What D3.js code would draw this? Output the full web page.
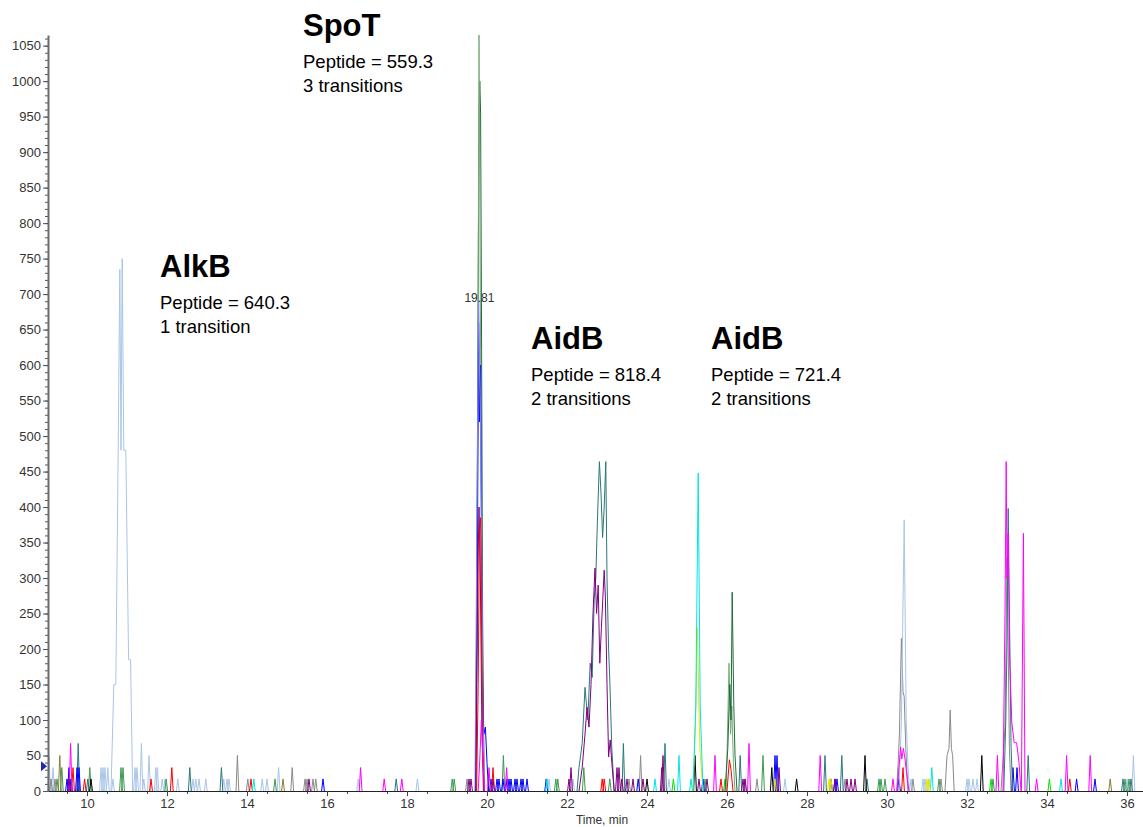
<!DOCTYPE html>
<html lang="en">
<head>
<meta charset="UTF-8">
<title>MRM chromatogram - AlkB, SpoT, AidB</title>
<script src="https://d3js.org/d3.v7.min.js"></script>
<style>
	body { margin: 0; background: #fff; }
	text { font-family: Arial, "Liberation Sans", sans-serif; }
	.tick text { font-size: 13px; fill: #333; }
	.trace { fill: none; stroke-width: 1; stroke-linejoin: round; }
</style>
</head>
<body>
<div id="chart"></div>
<script>

	// tick labels
	var yTicks = [0, 50, 100, 150, 200, 250, 300, 350, 400, 450, 500, 550, 600, 650, 700, 750, 800, 850, 900, 950, 1000, 1050];
	var xTicks = [10, 12, 14, 16, 18, 20, 22, 24, 26, 28, 30, 32, 34, 36];

	// noise spikes per transition colour: [time, intensity]
	var lightBlueNoise = [[9.05,50],[9.1,17],[9.15,33],[10.35,33],[10.4,33],[10.45,33],[10.52,33],[10.65,17],[11.2,33],[11.25,33],[11.36,67],[11.42,17],[11.55,50],[11.72,33],[11.76,33],[11.88,17],[11.95,17],[12.27,17],[12.65,17],[12.72,17],[12.8,17],[12.97,17],[13.42,17],[13.5,17],[13.55,17],[14.38,17],[14.5,17],[14.79,33],[16.78,17],[18.26,17],[21.55,17],[22.15,17],[23.45,17],[24.55,17],[27.45,17],[30.27,33],[30.6,17],[30.9,17],[30.95,17],[31.05,17],[32.0,17],[32.05,17],[32.15,17],[32.25,17],[36.0,17],[36.16,50]];
	var grayNoise = [[9.1,17],[9.2,17],[13.76,50],[14.02,17],[15.13,33],[15.45,17],[15.5,17],[15.65,17],[15.72,17],[19.5,17],[23.55,17],[23.84,50],[26.45,17],[26.75,17],[28.95,17],[30.65,17],[31.35,17]];
	var greenNoise = [[9.25,17],[9.37,33],[10.07,33],[10.85,33],[10.9,33],[11.98,17],[14.7,17],[19.13,17],[19.18,17],[20.41,50],[21.72,17],[21.77,17],[22.42,33],[23.07,17],[25.45,17],[26.9,50],[29.8,17],[29.85,17],[29.95,17],[31.3,17],[32.65,17],[35.95,17],[36.05,17]];
	var tealNoise = [[9.78,67],[10.02,17],[12.57,33],[13.36,33],[17.73,17],[23.41,67],[24.45,67],[26.33,50],[28.45,50],[28.87,50],[29.5,17],[33.53,50],[35.9,17],[36.1,17]];
	var blueNoise = [[9.5,17],[9.55,33],[9.6,17],[9.75,33],[9.8,33],[15.9,17],[20.1,17],[20.15,17],[20.25,17],[20.3,17],[20.4,17],[20.5,17],[20.55,17],[20.6,17],[20.7,17],[20.75,17],[20.85,17],[20.9,17],[21.0,17],[21.48,17],[23.78,17],[25.4,17],[27.2,50],[27.25,50],[28.6,17],[28.7,17],[28.75,17],[30.3,17],[33.15,33],[33.25,33],[34.74,17],[35.2,17]];
	var redNoise = [[9.65,33],[9.94,17],[11.6,17],[12.12,33],[14.1,17],[20.15,33],[22.88,17],[22.93,17],[25.85,17],[30.4,33],[34.57,17]];
	var magentaNoise = [[9.59,67],[16.84,33],[17.43,17],[17.87,17],[20.05,33],[20.49,33],[25.7,50],[26.55,67],[28.33,50],[30.15,17],[32.76,50],[33.74,17],[34.49,50],[35.08,50]];
	var purpleNoise = [[9.55,17],[15.55,17],[19.55,17],[19.6,17],[22.05,17],[22.1,33],[23.25,33],[23.3,33],[23.37,17],[23.5,17],[23.65,17],[23.9,17],[24.37,33],[24.4,50],[25.3,17],[25.5,17],[26.4,17],[26.45,17],[27.3,33],[28.7,17],[29.0,17],[29.1,17],[29.2,17]];
	var cyanNoise = [[14.17,17],[21.5,17],[24.2,17],[24.8,50],[25.1,17],[31.12,33],[34.35,17]];
	var yellowNoise = [[27.2,17],[28.55,17],[28.6,17],[31.0,17],[31.05,17]];
	var blackNoise = [[10.1,17],[24.0,17],[25.2,50],[27.12,33],[27.74,17],[29.45,50],[32.37,50]];
	var oliveNoise = [[9.32,50],[14.9,17],[35.58,17]];
	var limeNoise = [[24.66,17],[25.95,17],[32.6,17],[34.06,17]];

	// main peaks: [time, intensity] points
	var alkbPeak = [[10.6,0],[10.67,150],[10.72,150],[10.78,480],[10.82,735],[10.85,480],[10.88,750],[10.92,480],[10.97,480],[11.04,185],[11.09,185],[11.14,0]];
	var spotGreenTip = [[19.71,0],[19.76,380],[19.8,1065],[19.84,620],[19.88,160],[19.93,0]];
	var spotGreen = [[19.72,0],[19.77,600],[19.8,955],[19.82,1000],[19.84,955],[19.86,700],[19.89,250],[19.93,0]];
	var spotPeriwinkle = [[19.7,0],[19.75,400],[19.79,690],[19.83,560],[19.87,330],[19.9,100],[19.94,0]];
	var spotBlue = [[19.71,0],[19.75,220],[19.79,660],[19.81,520],[19.84,600],[19.86,380],[19.89,150],[19.92,80],[19.96,90],[20.0,40],[20.04,0]];
	var spotPurple = [[19.72,0],[19.77,300],[19.8,400],[19.83,320],[19.87,100],[19.91,0]];
	var spotRed = [[19.74,0],[19.78,150],[19.81,360],[19.84,385],[19.86,250],[19.89,60],[19.93,0]];
	var spotMagenta = [[19.78,0],[19.82,45],[19.86,100],[19.9,40],[19.94,0]];
	var aidbTeal = [[22.25,0],[22.3,33],[22.38,67],[22.45,146],[22.52,100],[22.58,180],[22.63,160],[22.68,270],[22.72,300],[22.76,380],[22.81,464],[22.85,420],[22.89,357],[22.93,400],[22.97,464],[23.0,300],[23.04,200],[23.07,156],[23.12,60],[23.18,0]];
	var aidbPurple = [[22.3,0],[22.38,33],[22.45,80],[22.5,118],[22.55,90],[22.6,150],[22.65,250],[22.7,314],[22.74,250],[22.78,290],[22.82,180],[22.86,230],[22.93,311],[22.96,273],[23.0,150],[23.04,48],[23.08,72],[23.12,40],[23.18,0]];
	var cyanPeak = [[25.15,0],[25.22,120],[25.28,448],[25.33,120],[25.4,0]];
	var yellowPeak = [[25.15,0],[25.21,90],[25.26,230],[25.32,60],[25.4,0]];
	var aidb2Green = [[25.95,0],[26.02,60],[26.07,150],[26.1,100],[26.13,280],[26.17,120],[26.2,50],[26.25,0]];
	var aidb2Gray = [[25.98,0],[26.05,180],[26.09,80],[26.12,120],[26.16,40],[26.2,0]];
	var aidb2Red = [[26.0,0],[26.06,44],[26.1,30],[26.15,0]];
	var p30LightBlue = [[30.3,0],[30.36,100],[30.43,382],[30.48,100],[30.52,40],[30.56,0]];
	var p30Gray = [[30.25,0],[30.31,80],[30.36,215],[30.4,140],[30.43,133],[30.47,60],[30.52,0]];
	var p30Magenta = [[30.25,0],[30.3,33],[30.34,62],[30.37,45],[30.41,60],[30.45,45],[30.5,20],[30.55,0]];
	var p31Gray = [[31.45,0],[31.5,50],[31.55,60],[31.58,114],[31.61,60],[31.64,50],[31.68,0]];
	var p33Gray = [[32.85,0],[32.95,90],[33.0,330],[33.03,200],[33.06,60],[33.1,0]];
	var p33Teal = [[32.92,0],[32.97,100],[33.0,210],[33.03,398],[33.05,300],[33.07,210],[33.1,67],[33.14,0]];
	var p33Magenta = [[32.9,0],[32.95,250],[32.98,464],[33.0,300],[33.03,363],[33.06,200],[33.12,96],[33.18,68],[33.24,68],[33.3,40],[33.35,0]];
	var p33Magenta2 = [[33.36,0],[33.41,363],[33.45,0]];

	var colors = {
		lightBlue: "#a9c5e8", gray: "#8a8a8a", green: "#3c9a50", darkGreen: "#1d6e35",
		teal: "#2a7878", blue: "#0000ff", periwinkle: "#8484f0", red: "#ff0000",
		magenta: "#ff00ff", purple: "#800080", cyan: "#00e5e5", yellow: "#e6e600",
		black: "#000000", olive: "#8b7d3a", lime: "#00e000", paleGreen: "#7aaa7a"
	};

	// drawing order: noise first, then the peaks
	var noiseSets = [
		[lightBlueNoise, colors.lightBlue], [grayNoise, colors.gray], [greenNoise, colors.green],
		[tealNoise, colors.teal], [blueNoise, colors.blue], [redNoise, colors.red],
		[magentaNoise, colors.magenta], [purpleNoise, colors.purple], [cyanNoise, colors.cyan],
		[yellowNoise, colors.yellow], [blackNoise, colors.black], [oliveNoise, colors.olive],
		[limeNoise, colors.lime]
	];
	var peakSets = [
		[alkbPeak, colors.lightBlue],
		[spotGreen, colors.darkGreen], [spotGreenTip, colors.paleGreen],
		[spotBlue, colors.blue], [spotPeriwinkle, colors.periwinkle], [spotPurple, colors.purple], [spotRed, colors.red], [spotMagenta, colors.magenta],
		[aidbTeal, colors.teal], [aidbPurple, colors.purple],
		[yellowPeak, colors.yellow], [cyanPeak, colors.cyan],
		[aidb2Gray, colors.paleGreen], [aidb2Green, colors.darkGreen], [aidb2Red, colors.red],
		[p30Gray, colors.gray], [p30LightBlue, colors.lightBlue], [p30Magenta, colors.magenta],
		[p31Gray, colors.gray],
		[p33Gray, colors.gray], [p33Teal, colors.teal], [p33Magenta, colors.magenta], [p33Magenta2, colors.magenta]
	];

	var W = 1143, H = 827;
	var spikeHalf = 0.035; // half width of a noise spike, min

	var svg = d3.select("#chart").append("svg")
		.attr("width", W)
		.attr("height", H);

	var x = d3.scaleLinear().domain([9.025, 36.4]).range([48, 1143]);
	var y = d3.scaleLinear().domain([0, 1065]).range([791, 35]);

	var line = d3.line()
		.x(function (d) { return x(d[0]); })
		.y(function (d) { return y(d[1]); });

	var plot = svg.append("g");

	// noise spikes, drawn as small triangles
	noiseSets.forEach(function (set) {
		plot.append("g").selectAll("path")
			.data(set[0])
			.enter()
			.append("path")
			.attr("class", "trace")
			.attr("stroke", set[1])
			.attr("d", function (d) {
				return line([[d[0] - spikeHalf, 0], [d[0], d[1]], [d[0] + spikeHalf, 0]]);
			});
	});

	// peaks
	plot.selectAll("path.peak")
		.data(peakSets)
		.enter()
		.append("path")
		.attr("class", "trace peak")
		.attr("stroke", function (d) { return d[1]; })
		.attr("d", function (d) { return line(d[0]); });

	// y axis with minor ticks
	svg.append("g")
		.attr("transform", "translate(48,0)")
		.call(d3.axisLeft(y).tickValues(d3.range(0, 1061, 10)).tickSize(3).tickFormat(""))
		.call(function (g) { g.select(".domain").remove(); g.selectAll("line").attr("stroke", "#555"); });
	svg.append("g")
		.attr("transform", "translate(48,0)")
		.call(d3.axisLeft(y).tickValues(yTicks).tickSize(5).tickPadding(2).tickSizeOuter(0).tickFormat(d3.format("d")))
		.call(function (g) {
			g.select(".domain").attr("stroke", "#6a6a6a").attr("stroke-width", 2);
			g.selectAll("line").attr("stroke", "#555");
		});

	// x axis with minor ticks
	svg.append("g")
		.attr("transform", "translate(0,791)")
		.call(d3.axisBottom(x).tickValues(d3.range(9.5, 36.5, 1)).tickSize(3).tickFormat(""))
		.call(function (g) { g.select(".domain").remove(); g.selectAll("line").attr("stroke", "#444"); });
	svg.append("g")
		.attr("transform", "translate(0,791)")
		.call(d3.axisBottom(x).tickValues(xTicks).tickSize(5).tickPadding(3).tickSizeOuter(0))
		.call(function (g) {
			g.select(".domain").attr("stroke", "#222");
			g.selectAll("line").attr("stroke", "#444");
		});

	svg.append("text")
		.attr("x", 602).attr("y", 824)
		.attr("text-anchor", "middle")
		.attr("font-size", 12).attr("fill", "#333")
		.text("Time, min");

	// blue marker on the y axis
	svg.append("path")
		.attr("d", "M41," + (y(35) - 5) + "L47," + y(35) + "L41," + (y(35) + 5) + "Z")
		.attr("fill", "#1c2aa8");

	// apex label
	svg.append("text")
		.attr("x", x(19.81)).attr("y", 302)
		.attr("text-anchor", "middle")
		.attr("font-size", 12).attr("fill", "#333")
		.text("19.81");

	// annotations
	var notes = [
		{ x: 303, y: 36, title: "SpoT", l1: "Peptide = 559.3", l2: "3 transitions" },
		{ x: 160, y: 277, title: "AlkB", l1: "Peptide = 640.3", l2: "1 transition" },
		{ x: 531, y: 349, title: "AidB", l1: "Peptide = 818.4", l2: "2 transitions" },
		{ x: 711, y: 349, title: "AidB", l1: "Peptide = 721.4", l2: "2 transitions" }
	];
	var ng = svg.selectAll("g.note").data(notes).enter().append("g").attr("class", "note");
	ng.append("text")
		.attr("x", function (d) { return d.x; })
		.attr("y", function (d) { return d.y; })
		.attr("font-size", 31).attr("font-weight", "bold").attr("fill", "#000")
		.text(function (d) { return d.title; });
	ng.append("text")
		.attr("x", function (d) { return d.x; })
		.attr("y", function (d) { return d.y + 32; })
		.attr("font-size", 18.5).attr("fill", "#000")
		.text(function (d) { return d.l1; });
	ng.append("text")
		.attr("x", function (d) { return d.x; })
		.attr("y", function (d) { return d.y + 56; })
		.attr("font-size", 18.5).attr("fill", "#000")
		.text(function (d) { return d.l2; });

</script>
</body>
</html>
